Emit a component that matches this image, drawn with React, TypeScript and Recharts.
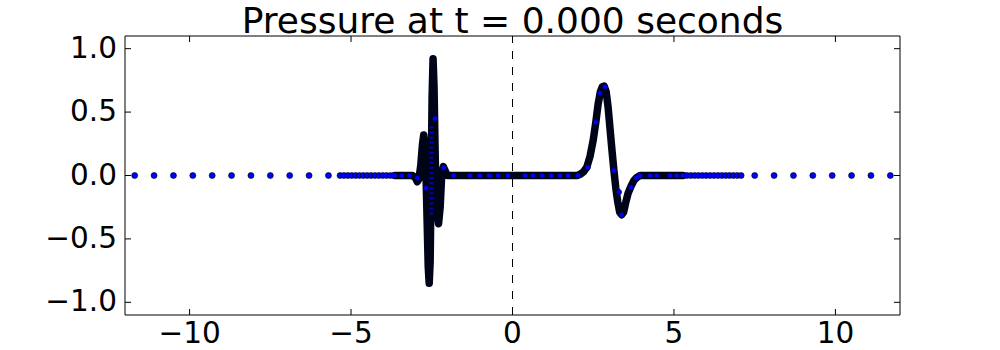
import React from 'react';
import { ComposedChart, Line, Scatter, XAxis, YAxis } from 'recharts';

// ---------- data ----------
const xTicks = [-10, -5, 0, 5, 10];
const yTicks = [-1, -0.5, 0, 0.5, 1];
const titleText = 'Pressure at t = 0.000 seconds';

// coarse level (spacing 0.6) visible outside the refined region
const coarseX = [-11.7, -11.1, -10.5, -9.9, -9.3, -8.7, -8.1, -7.5, -6.9, -6.3, -5.7,
  7.5, 8.1, 8.7, 9.3, 9.9, 10.5, 11.1, 11.7];
const coarseY = [0, 0, 0, 0, 0, 0, 0, 0, 0, 0, 0, 0, 0, 0, 0, 0, 0, 0, 0];

// intermediate level, visible as individual dots at the edges of the refined region
const midX = [-5.34, -5.22, -5.1, -4.98, -4.86, -4.74, -4.62, -4.5, -4.38, -4.26, -4.14, -4.02, -3.9, -3.78, -3.66,
  5.4, 5.52, 5.64, 5.76, 5.88, 6.0, 6.12, 6.24, 6.36, 6.48, 6.6, 6.72, 6.84, 6.96, 7.08];
const midY = [0, 0, 0, 0, 0, 0, 0, 0, 0, 0, 0, 0, 0, 0, 0,
  0, 0, 0, 0, 0, 0, 0, 0, 0, 0, 0, 0, 0, 0, 0];

// finest level: dense pressure curve (drawn as thick dark band)
const fineX = [-3.64, -3.1, -3.0, -2.95, -2.9, -2.84, -2.79, -2.75, -2.72, -2.68, -2.64, -2.61, -2.58, -2.55,
  -2.52, -2.49, -2.46, -2.43, -2.39, -2.34, -2.29, -2.24, -2.19, -2.14, -2.09, -2.02,
  2.0, 2.1, 2.2, 2.3, 2.4, 2.5, 2.58, 2.65, 2.72, 2.78, 2.84, 2.9, 2.96, 3.02, 3.08, 3.14, 3.2, 3.26,
  3.32, 3.38, 3.44, 3.5, 3.58, 3.67, 3.76, 3.85, 3.95, 5.28];
const fineY = [0, 0, -0.02, -0.05, -0.03, 0.08, 0.24, 0.32, 0.26, 0.02, -0.4, -0.72, -0.85, -0.68,
  -0.05, 0.62, 0.92, 0.7, 0.1, -0.27, -0.38, -0.25, 0.02, 0.07, 0.04, 0.0,
  0.0, 0.01, 0.03, 0.065, 0.15, 0.28, 0.42, 0.56, 0.66, 0.7, 0.705, 0.66, 0.54, 0.37, 0.2, 0.04, -0.1, -0.21,
  -0.29, -0.31, -0.29, -0.22, -0.14, -0.085, -0.04, -0.015, 0, 0];

// coarser points visible on top of the dense band
const overX = [-3.43, -3.19, -2.95, -2.68, -2.4, -2.14, -1.83, -1.31, -1.01, -0.73, -0.45, -0.14, 0.39, 0.63,
  0.91, 1.19, 1.47, 1.72, 2.03, 2.33, 2.58, 2.71, 2.86, 3.14, 3.3, 3.38, 3.67, 3.84, 3.95, 4.26, 4.46, 4.88, 5.08, 5.28];
const overY = [0, 0, -0.02, -0.1, 0.45, 0.06, 0, 0, 0, 0, 0, 0, 0, 0,
  0, 0, 0, 0, 0, 0.064, 0.42, 0.65, 0.7, 0.04, -0.13, -0.31, -0.094, -0.02, 0, 0, 0, 0, 0, 0];

// small blue marks visible inside the tall spike
const spikeX = [-2.51, -2.51, -2.51, -2.51, -2.51, -2.51, -2.51, -2.51, -2.51, -2.51, -2.51, -2.51, -2.51, -2.51, -2.51, -2.51, -2.51, -2.51];
const spikeY = [0.38, 0.34, 0.3, 0.26, 0.22, 0.18, 0.14, 0.1, 0.06, 0.02, -0.02, -0.06, -0.1, -0.14, -0.18, -0.22, -0.26, -0.3];

// dashed vertical line at x = 0
const vlineX = [0, 0];
const vlineY = [-1.1, 1.1];

const zip = (xs: number[], ys: number[]) => xs.map((x, i) => ({ x, y: ys[i] }));
const coarseData = zip(coarseX, coarseY);
const midData = zip(midX, midY);
const fineData = zip(fineX, fineY);
const overData = zip(overX, overY);
const spikeData = zip(spikeX, spikeY);
const vlineData = zip(vlineX, vlineY);

const FONT = 'DejaVu Sans';
const minus = (s: string) => s.replace('-', '\u2212');

const XTick = (props: any) => {
  const { x, y, payload } = props;
  return (
    <g>
      <line x1={x} x2={x} y1={y} y2={y - 6} stroke="#000" strokeWidth={1} />
      <text x={x} y={y + 28} textAnchor="middle" fontSize={29.5} fontFamily={FONT} fill="#000">
        {minus(String(payload.value))}
      </text>
    </g>
  );
};
const TopTick = (props: any) => {
  const { x, y } = props;
  return <line x1={x} x2={x} y1={y} y2={y + 6} stroke="#000" strokeWidth={1} />;
};
const YTick = (props: any) => {
  const { x, y, payload } = props;
  return (
    <g>
      <line x1={x} x2={x + 6} y1={y} y2={y} stroke="#000" strokeWidth={1} />
      <text x={x - 8} y={y + 9} textAnchor="end" fontSize={29.5} fontFamily={FONT} fill="#000">
        {minus(Number(payload.value).toFixed(1))}
      </text>
    </g>
  );
};
const RightTick = (props: any) => {
  const { x, y } = props;
  return <line x1={x} x2={x - 6} y1={y} y2={y} stroke="#000" strokeWidth={1} />;
};

const BlueDot = (props: any) => (
  <circle cx={props.cx} cy={props.cy} r={3} fill="#0000ff" stroke="#000" strokeWidth={0.6} />
);
const SmallDot = (props: any) => (
  <circle cx={props.cx} cy={props.cy} r={2.6} fill="#0000ff" stroke="#000" strokeWidth={0.5} />
);
const Dash = (props: any) => (
  <rect x={props.cx - 2} y={props.cy - 0.8} width={4} height={1.6} fill="#0000e0" />
);

export default function App() {
  return (
    <div style={{ position: 'absolute', left: 0, top: 0, width: 1000, height: 350, background: '#fff' }}>
      <ComposedChart width={1000} height={350} margin={{ top: 35, right: 99, bottom: 0, left: 0 }}>
        <XAxis xAxisId={0} dataKey="x" type="number" domain={[-12, 12]} ticks={xTicks} allowDataOverflow
          height={35} tickSize={0} tickMargin={0} tickLine={false} axisLine={{ stroke: '#000' }} tick={<XTick />} interval={0} />
        <XAxis xAxisId="top" orientation="top" dataKey="x" type="number" domain={[-12, 12]} ticks={xTicks} allowDataOverflow
          height={1} tickSize={0} tickMargin={0} tickLine={false} axisLine={{ stroke: '#000' }} tick={<TopTick />} interval={0} />
        <YAxis yAxisId={0} dataKey="y" type="number" domain={[-1.1, 1.1]} ticks={yTicks} allowDataOverflow
          width={125} tickSize={0} tickMargin={0} tickLine={false} axisLine={{ stroke: '#000' }} tick={<YTick />} interval={0} />
        <YAxis yAxisId="right" orientation="right" dataKey="y" type="number" domain={[-1.1, 1.1]} ticks={yTicks} allowDataOverflow
          width={1} tickSize={0} tickMargin={0} tickLine={false} axisLine={{ stroke: '#000' }} tick={<RightTick />} interval={0} />
        <Line data={vlineData} xAxisId="top" yAxisId="right" dataKey="y" type="linear" stroke="#000" strokeWidth={1} strokeDasharray="8 8"
          dot={false} activeDot={false} isAnimationActive={false} />
        <Line data={fineData} dataKey="y" type="linear" stroke="#000418" strokeWidth={7.5}
          strokeLinejoin="round" strokeLinecap="round" dot={false} activeDot={false} isAnimationActive={false} />
        <Scatter data={midData} dataKey="y" shape={<BlueDot />} isAnimationActive={false} />
        <Scatter data={overData} dataKey="y" shape={<SmallDot />} isAnimationActive={false} />
        <Scatter data={spikeData} dataKey="y" shape={<Dash />} isAnimationActive={false} />
        <Scatter data={coarseData} dataKey="y" shape={<BlueDot />} isAnimationActive={false} />
      </ComposedChart>
      <svg width={1000} height={46} style={{ position: 'absolute', left: 0, top: 0 }}>
        <text x={512.5} y={33} textAnchor="middle" fontSize={36} fontFamily={FONT} fill="#000">{titleText}</text>
      </svg>
    </div>
  );
}
